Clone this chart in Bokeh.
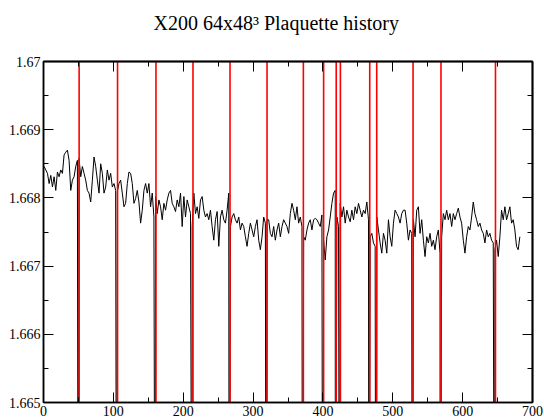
import numpy as np
from bokeh.plotting import figure
from bokeh.models import (FixedTicker, ColumnDataSource, LinearAxis, Range1d, Title,
                          ColorBar, LinearColorMapper)
from bokeh.embed import file_html
from bokeh.resources import INLINE

# Plaquette history
plaq = [
    1.66846, 1.66841, 1.66836, 1.66821, 1.66833, 1.66816, 1.66831, 1.66811, 1.66838, 1.66831,
    1.66841, 1.66836, 1.66863, 1.66867, 1.66870, 1.66855, 1.66811, 1.66826, 1.66831, 1.66846,
    1.66855, 1.66858, 1.66831, 1.66846, 1.66836, 1.66826, 1.66811, 1.66807, 1.66794, 1.66826,
    1.66860, 1.66846, 1.66826, 1.66807, 1.66850, 1.66836, 1.66807, 1.66816, 1.66841, 1.66826,
    1.66836, 1.66816, 1.66821, 1.66811, 1.66809, 1.66821, 1.66826, 1.66807, 1.66787, 1.66792,
    1.66821, 1.66838, 1.66836, 1.66821, 1.66792, 1.66799, 1.66811, 1.66794, 1.66763, 1.66782,
    1.66811, 1.66821, 1.66807, 1.66821, 1.66787, 1.66807, 1.66772, 1.66802, 1.66777, 1.66797,
    1.66787, 1.66768, 1.66792, 1.66782,
    1.66797, 1.66807, 1.66811, 1.66792, 1.66787, 1.66780, 1.66797, 1.66787, 1.66807, 1.66758,
    1.66802, 1.66772, 1.66797, 1.66787, 1.66777, 1.66758, 1.66807, 1.66777, 1.66787, 1.66770,
    1.66797, 1.66802, 1.66782, 1.66772, 1.66777, 1.66768, 1.66782, 1.66758, 1.66738, 1.66768,
    1.66780, 1.66729, 1.66772, 1.66782, 1.66768, 1.66763, 1.66782, 1.66807, 1.66758, 1.66772,
    1.66777, 1.66768, 1.66763, 1.66772, 1.66753, 1.66763, 1.66758, 1.66743, 1.66729, 1.66748,
    1.66763, 1.66753, 1.66743, 1.66758, 1.66768, 1.66738, 1.66724, 1.66743, 1.66772, 1.66763,
    1.66768, 1.66768, 1.66748, 1.66743, 1.66758, 1.66738, 1.66753, 1.66763, 1.66743, 1.66758,
    1.66768, 1.66763,
    1.66758, 1.66748, 1.66777, 1.66792, 1.66782, 1.66768, 1.66787, 1.66763, 1.66772, 1.66758,
    1.66743, 1.66738, 1.66753, 1.66763, 1.66768, 1.66753, 1.66768, 1.66770, 1.66768, 1.66763,
    1.66758, 1.66775, 1.66738, 1.66709, 1.66743, 1.66753, 1.66772, 1.66792, 1.66807, 1.66811,
    1.66772, 1.66758, 1.66792, 1.66772, 1.66787, 1.66763, 1.66782, 1.66772, 1.66765, 1.66782,
    1.66768, 1.66787, 1.66777, 1.66792, 1.66782, 1.66772, 1.66782, 1.66777, 1.66794, 1.66768,
    1.66743, 1.66748, 1.66734, 1.66729, 1.66772, 1.66753, 1.66734, 1.66719, 1.66748, 1.66738,
    1.66719, 1.66768, 1.66743, 1.66729, 1.66763, 1.66782, 1.66777, 1.66772, 1.66763, 1.66777,
    1.66782, 1.66782,
    1.66763, 1.66738, 1.66753, 1.66748, 1.66768, 1.66743, 1.66782, 1.66787, 1.66748, 1.66768,
    1.66738, 1.66714, 1.66743, 1.66734, 1.66748, 1.66729, 1.66738, 1.66724, 1.66743, 1.66753,
    1.66719, 1.66743, 1.66777, 1.66768, 1.66782, 1.66768, 1.66777, 1.66758, 1.66777, 1.66768,
    1.66777, 1.66785, 1.66772, 1.66763, 1.66738, 1.66719, 1.66743, 1.66758, 1.66753, 1.66772,
    1.66794, 1.66777, 1.66768, 1.66758, 1.66763, 1.66753, 1.66748, 1.66734, 1.66753, 1.66743,
    1.66748, 1.66738, 1.66734, 1.66724, 1.66738, 1.66714, 1.66743, 1.66782, 1.66768, 1.66787,
    1.66768, 1.66777, 1.66787, 1.66763, 1.66768, 1.66753, 1.66729, 1.66724, 1.66743,
]
traj_first, traj_last = 0.9, 681.9

# trajectories where a new run starts (red markers); plaquette drops out there
restart_traj = [51, 106, 161, 214, 267, 320, 372, 401, 419, 425, 467, 477, 529, 569, 647]
dropout_plaq = 1.660

x_ticks = [0, 100, 200, 300, 400, 500, 600, 700]
x_minor = [50, 150, 250, 350, 450, 550, 650]
x_labels = ["0", "100", "200", "300", "400", "500", "600", "700"]
y_ticks = [1.665, 1.666, 1.667, 1.668, 1.669, 1.67]
y_minor = [1.6655, 1.6665, 1.6675, 1.6685, 1.6695]
y_labels = ["1.665", "1.666", "1.667", "1.668", "1.669", "1.67"]
title_text = "X200 64x48\u00b3 Plaquette history"

traj = list(np.linspace(traj_first, traj_last, len(plaq)))
xs = traj + [r - 1.2 for r in restart_traj]
ys = plaq + [dropout_plaq] * len(restart_traj)
order = np.argsort(xs)
line_src = ColumnDataSource(dict(x=[xs[i] for i in order], y=[ys[i] for i in order]))

y_lo, y_hi = y_ticks[0], y_ticks[-1]
red_src = ColumnDataSource(dict(x=restart_traj, y0=[y_lo] * len(restart_traj),
                                y1=[y_hi] * len(restart_traj)))

FONT = "Liberation Serif"

p = figure(width=544, height=418, x_range=Range1d(0, 700), y_range=Range1d(y_lo, y_hi),
           toolbar_location=None, output_backend="svg", title=None,
           min_border_left=43, min_border_right=12, min_border_top=61, min_border_bottom=15)
p.xgrid.visible = False
p.ygrid.visible = False
p.outline_line_color = "black"
p.outline_line_width = 1.5
p.background_fill_color = "white"
p.border_fill_color = "white"

p.line("x", "y", source=line_src, line_color="black", line_width=1)
p.segment(x0="x", x1="x", y0="y0", y1="y1", source=red_src, line_color="#ff0000", line_width=1.6)

def base_style(ax):
    ax.axis_line_width = 1.5
    ax.axis_line_color = "black"
    ax.major_tick_out = 0
    ax.minor_tick_out = 0
    ax.major_tick_line_width = 1
    ax.minor_tick_line_width = 1

def style_labeled(ax, ticks, minor, labels):
    base_style(ax)
    ax.ticker = FixedTicker(ticks=ticks, minor_ticks=minor)
    ax.major_label_overrides = {t: l for t, l in zip(ticks, labels)}
    ax.major_tick_in = 10
    ax.minor_tick_in = 5
    ax.major_label_text_font = FONT
    ax.major_label_text_color = "black"
    ax.major_label_text_font_size = "14px"
    ax.major_label_standoff = 3

def mirror_axes(ticks, minor, side):
    # unlabeled mirror ticks: one axis for the long ticks, one for the short ones
    for pos, length in ((ticks, 10), (minor, 5)):
        ax = LinearAxis()
        base_style(ax)
        ax.ticker = FixedTicker(ticks=[], minor_ticks=pos)
        ax.minor_tick_in = length
        ax.major_label_standoff = 0
        p.add_layout(ax, side)

style_labeled(p.xaxis[0], x_ticks, x_minor, x_labels)
style_labeled(p.yaxis[0], y_ticks, y_minor, y_labels)
mirror_axes(x_ticks, x_minor, "above")
mirror_axes(y_ticks, y_minor, "right")

# invisible spacer between the frame and the title
spacer = ColorBar(color_mapper=LinearColorMapper(palette=["#ffffff"], low=0, high=1),
                  ticker=FixedTicker(ticks=[]), height=23, padding=0, margin=0,
                  scale_alpha=0, bar_line_color=None, border_line_color=None,
                  background_fill_color=None, major_tick_out=0, label_standoff=0,
                  major_tick_line_color=None, minor_tick_line_color=None)
p.add_layout(spacer, "above")

title = Title(text=title_text, text_font=FONT, text_font_size="20px", text_font_style="normal",
              text_color="black", align="left", offset=110, standoff=10)
p.add_layout(title, "above")

open("out.html", "w").write(file_html(p, INLINE))
